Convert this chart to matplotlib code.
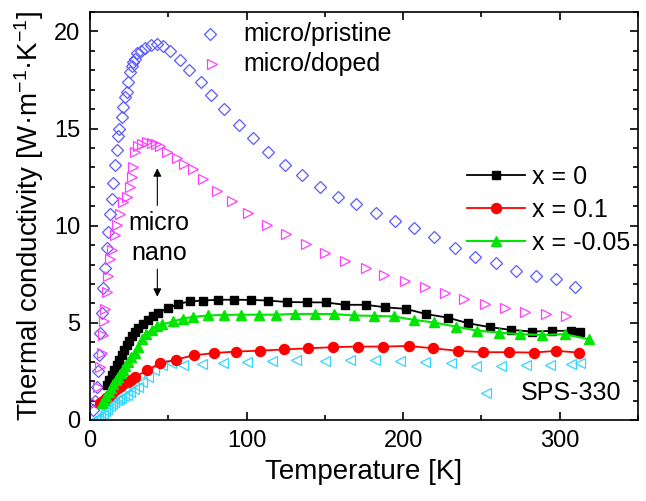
import matplotlib
matplotlib.use("Agg")
import matplotlib.pyplot as plt
from matplotlib.ticker import MultipleLocator

plt.rcParams['font.family'] = ['Liberation Sans', 'DejaVu Sans']
plt.rcParams['mathtext.fontset'] = 'custom'
plt.rcParams['mathtext.rm'] = 'Liberation Sans'
plt.rcParams['mathtext.it'] = 'Liberation Sans'

# micro/pristine (open blue diamonds)
T_pristine = [2.0, 3.2, 4.3, 5.0, 5.6, 6.4, 7.5, 8.5, 9.6, 10.6, 11.7, 12.8, 14.2, 14.9, 16.0, 17.0,
              18.1, 18.7, 20.2, 20.8, 22.3, 23.4, 24.5, 25.5, 26.6, 27.7, 28.7, 30.2, 32.5, 35.0, 39.0,
              43.0, 46.8, 51.0, 57.4, 63.0, 70.6, 77.6, 85.5, 94.9, 104.0, 114.0, 124.4, 135.5, 146.8,
              158.5, 170.0, 182.5, 194.6, 207.0, 220.0, 233.0, 245.7, 259.0, 272.0, 285.0, 297.4, 310.0]
k_pristine = [0.5, 1.0, 1.7, 2.5, 3.35, 4.5, 5.5, 6.8, 7.8, 8.85, 9.7, 10.6, 11.4, 12.2, 13.1, 13.9,
              14.6, 15.0, 15.6, 16.1, 16.6, 16.9, 17.4, 17.9, 18.2, 18.45, 18.6, 18.9, 19.0, 19.16, 19.28,
              19.33, 19.24, 18.98, 18.52, 18.0, 17.4, 16.75, 16.0, 15.2, 14.5, 13.8, 13.1, 12.6, 12.0,
              11.5, 11.1, 10.65, 10.25, 9.9, 9.4, 8.85, 8.4, 8.08, 7.68, 7.4, 7.27, 6.87]

# micro/doped (open magenta right triangles)
T_doped = [3.2, 5.3, 6.4, 7.5, 8.5, 9.0, 9.6, 10.6, 11.7, 12.8, 13.8, 16.0, 17.0, 19.1, 21.3, 23.4,
           25.5, 26.6, 27.6, 28.7, 30.8, 33.0, 36.2, 39.4, 42.0, 44.7, 49.0, 55.3, 60.0, 66.0, 72.3,
           80.9, 90.4, 101.0, 112.8, 125.0, 138.0, 150.0, 163.0, 176.0, 188.0, 201.0, 214.0, 226.5,
           239.0, 252.0, 265.0, 278.0, 291.0, 304.0]
k_doped = [0.87, 1.7, 2.75, 3.44, 4.4, 5.07, 5.7, 6.6, 7.4, 8.3, 8.76, 9.5, 10.05, 10.6, 11.2, 11.5,
           12.0, 12.5, 13.0, 13.8, 14.1, 14.2, 14.3, 14.26, 14.2, 14.1, 13.8, 13.5, 13.2, 12.9, 12.4,
           11.8, 11.25, 10.65, 10.05, 9.55, 9.05, 8.6, 8.2, 7.83, 7.47, 7.13, 6.84, 6.53,
           6.25, 5.98, 5.76, 5.55, 5.46, 5.36]

# nano, x = 0 (black squares)
T_x0 = [10.6, 12.0, 13.8, 15.4, 17.0, 18.6, 20.2, 21.8, 23.4, 25.0, 26.6, 28.7, 30.8, 34.0, 37.2,
        40.4, 43.6, 50.0, 56.4, 63.8, 72.3, 81.9, 92.0, 102.7, 113.8, 125.9, 138.3, 150.6, 162.7,
        176.0, 188.7, 201.7, 214.8, 228.5, 241.5, 255.3, 268.7, 282.3, 295.3, 307.4, 313.0]
k_x0 = [1.8, 2.05, 2.3, 2.57, 2.84, 3.1, 3.35, 3.6, 3.87, 4.08, 4.3, 4.52, 4.73, 4.95, 5.15,
        5.35, 5.52, 5.76, 5.98, 6.1, 6.15, 6.19, 6.19, 6.18, 6.15, 6.07, 6.06, 6.05, 5.93,
        5.93, 5.8, 5.72, 5.45, 5.27, 4.98, 4.78, 4.64, 4.55, 4.59, 4.59, 4.52]

# nano, x = 0.1 (red circles)
T_x01 = [6.4, 8.0, 10.0, 12.0, 14.0, 16.0, 18.0, 20.0, 22.0, 24.0, 26.0, 28.7, 36.2, 44.7, 54.7,
         66.4, 79.5, 93.0, 108.5, 123.8, 139.3, 155.3, 171.2, 187.2, 203.6, 219.0, 235.2, 251.0,
         267.4, 283.3, 297.8, 312.3]
k_x01 = [0.87, 0.98, 1.12, 1.26, 1.4, 1.52, 1.64, 1.76, 1.88, 1.98, 2.08, 2.2, 2.55, 2.92, 3.11,
         3.33, 3.45, 3.52, 3.57, 3.63, 3.69, 3.75, 3.78, 3.78, 3.81, 3.69, 3.56, 3.49,
         3.49, 3.47, 3.56, 3.47]

# nano, x = -0.05 (green triangles)
T_xm005 = [7.5, 9.0, 10.5, 12.0, 13.5, 15.0, 16.5, 18.0, 19.5, 21.0, 22.5, 24.4, 26.5, 28.7, 30.8,
           33.0, 36.0, 39.4, 42.5, 45.8, 53.2, 59.2, 66.0, 75.5, 85.6, 96.6, 108.0, 119.0, 130.8,
           143.6, 155.9, 168.7, 181.4, 194.2, 207.0, 219.7, 233.5, 247.2, 261.2, 274.4, 288.9,
           303.1, 318.4]
k_xm005 = [0.86, 1.05, 1.25, 1.45, 1.65, 1.85, 2.05, 2.22, 2.4, 2.58, 2.77, 3.0, 3.22, 3.44, 3.75,
           4.15, 4.45, 4.64, 4.82, 4.92, 5.07, 5.22, 5.31, 5.38, 5.41, 5.42, 5.42, 5.42, 5.46,
           5.46, 5.45, 5.38, 5.36, 5.33, 5.15, 5.02, 4.81, 4.6, 4.5, 4.42, 4.38,
           4.42, 4.16]

# SPS-330 (open cyan left triangles)
T_sps = [3.0, 4.0, 5.0, 6.4, 8.0, 9.5, 11.0, 12.5, 14.0, 15.5, 17.0, 18.5, 20.0, 21.7, 23.4, 25.5,
         28.0, 30.8, 33.5, 37.2, 41.0, 45.8, 52.0, 59.5, 71.3, 85.0, 100.0, 116.0, 131.5, 150.0,
         166.0, 182.0, 198.3, 213.8, 230.8, 246.8, 262.7, 278.7, 293.6, 307.4, 312.7]
k_sps = [0.0, 0.05, 0.1, 0.17, 0.3, 0.45, 0.58, 0.7, 0.82, 0.93, 1.03, 1.1, 1.15, 1.22, 1.29, 1.42,
         1.57, 1.72, 1.95, 2.23, 2.55, 2.83, 2.92, 2.85, 2.88, 2.93, 2.97, 3.02, 3.07, 3.06,
         3.09, 3.09, 3.06, 3.0, 2.93, 2.8, 2.8, 2.83, 2.83, 2.87, 2.92]

series_labels = ['x = 0', 'x = 0.1', 'x = -0.05']

fig = plt.figure(figsize=(6.46, 5.01), dpi=100)
ax = fig.add_axes([90/646, 81/501, 548/646, 408/501])

blue = '#5a5aff'
magenta = '#ff40ff'
cyan = '#33d6ff'

ax.plot(T_pristine, k_pristine, ls='none', marker='D', ms=6.5, mfc='none', mec=blue, mew=0.9)
ax.plot(T_doped, k_doped, ls='none', marker='>', ms=7.5, mfc='none', mec=magenta, mew=0.9)
ax.plot(T_sps, k_sps, ls='none', marker='<', ms=7.5, mfc='none', mec=cyan, mew=0.9)

l0, = ax.plot(T_x0, k_x0, color='black', lw=1.3, marker='s', ms=6.3)
l1, = ax.plot(T_x01, k_x01, color='#ff0000', lw=1.3, marker='o', ms=7.2)
l2, = ax.plot(T_xm005, k_xm005, color='#00e600', lw=1.5, marker='^', ms=7.5)

ax.legend([l0, l1, l2], series_labels, loc='upper left', bbox_to_anchor=(0.688, 0.625),
          frameon=False, fontsize=18, handlelength=2.3, handletextpad=0.3,
          labelspacing=0.36, borderpad=0, borderaxespad=0)

# legend-like annotations for open symbols
ax.plot([76.6], [19.85], ls='none', marker='D', ms=6.5, mfc='none', mec=blue, mew=0.9)
ax.text(98, 19.85, 'micro/pristine', fontsize=18, va='center', ha='left')
ax.plot([77.7], [18.3], ls='none', marker='>', ms=7.5, mfc='none', mec=magenta, mew=0.9)
ax.text(98, 18.3, 'micro/doped', fontsize=18, va='center', ha='left')
ax.plot([253], [1.37], ls='none', marker='<', ms=7.5, mfc='none', mec=cyan, mew=0.9)
ax.text(275, 1.37, 'SPS-330', fontsize=18, va='center', ha='left')

# micro / nano arrows
ax.text(44, 10.15, 'micro', fontsize=18, ha='center', va='center')
ax.text(44, 8.6, 'nano', fontsize=18, ha='center', va='center')
ax.annotate('', xy=(43, 13.1), xytext=(43, 10.9),
            arrowprops=dict(arrowstyle='-|>', color='black', lw=0.8, mutation_scale=12))
ax.annotate('', xy=(43, 6.2), xytext=(43, 7.9),
            arrowprops=dict(arrowstyle='-|>', color='black', lw=0.8, mutation_scale=12))

ax.set_xlim(0, 350)
ax.set_ylim(0, 21)
ax.xaxis.set_major_locator(MultipleLocator(100))
ax.xaxis.set_minor_locator(MultipleLocator(50))
ax.yaxis.set_major_locator(MultipleLocator(5))
ax.yaxis.set_minor_locator(MultipleLocator(1))
ax.tick_params(which='both', direction='in', top=True, right=True, width=1.2)
ax.tick_params(which='major', length=6, labelsize=17, pad=7)
ax.tick_params(which='minor', length=3.5)
for s in ax.spines.values():
    s.set_linewidth(1.2)

ax.set_xlabel('Temperature [K]', fontsize=20, labelpad=5)
ax.set_ylabel('Thermal conductivity [W·m$^{\\mathregular{-1}}$·K$^{\\mathregular{-1}}$]', fontsize=20, labelpad=6)

fig.savefig('out.png', dpi=100)
